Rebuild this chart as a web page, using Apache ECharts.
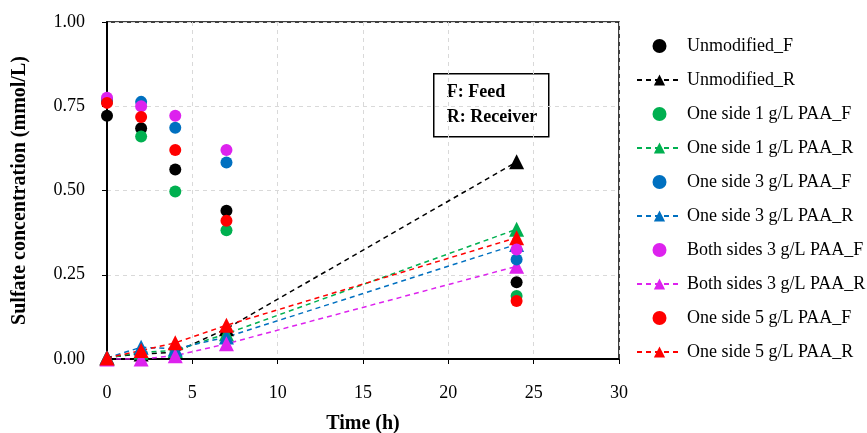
<!DOCTYPE html>
<html>
<head>
<meta charset="utf-8">
<script src="https://cdn.jsdelivr.net/npm/echarts@6/dist/echarts.min.js"></script>
<style>
  html, body { margin: 0; padding: 0; background: #fff; }
  #chart { width: 867px; height: 433px; }
</style>
</head>
<body>
<div id="chart"></div>
<script>
// sampling times (h)
const times = [0, 2, 4, 7, 24];

// feed side (F)
const unmodF  = [0.722, 0.685, 0.562, 0.440, 0.228];
const one1F   = [0.765, 0.660, 0.497, 0.382, 0.187];
const one3F   = [0.770, 0.763, 0.686, 0.583, 0.295];
const bothF   = [0.775, 0.750, 0.722, 0.620, 0.325];
const one5F   = [0.760, 0.718, 0.620, 0.410, 0.172];

// receiver side (R)
const unmodR  = [0.005, 0.015, 0.020, 0.090, 0.585];
const one1R   = [0.003, 0.020, 0.025, 0.075, 0.385];
const one3R   = [0.003, 0.035, 0.030, 0.065, 0.340];
const bothR   = [0.000, 0.000, 0.010, 0.045, 0.275];
const one5R   = [0.003, 0.025, 0.048, 0.100, 0.360];

const xTicks = [0, 5, 10, 15, 20, 25, 30];
const yTicks = [0, 0.25, 0.5, 0.75, 1.0];

const serif = '"Liberation Serif", "DejaVu Serif", serif';

function pts(vals) {
    return times.map((t, i) => [t, vals[i]]);
}

// scatter series for feed
function feed(name, vals, color) {
    return {
        name: name,
        type: 'scatter',
        data: pts(vals),
        symbol: 'circle',
        symbolSize: 12,
        itemStyle: { color: color, opacity: 1 },
        z: 3
    };
}

// dashed line + triangle for receiver
function recv(name, vals, color) {
    return {
        name: name,
        type: 'line',
        data: pts(vals),
        symbol: 'triangle',
        symbolSize: 15,
        showSymbol: true,
        itemStyle: { color: color, opacity: 1 },
        lineStyle: { color: color, width: 1.5, type: [5, 4] },
        z: 2
    };
}

const series = [
    feed('Unmodified_F', unmodF, '#000000'),
    recv('Unmodified_R', unmodR, '#000000'),
    feed('One side 1 g/L PAA_F', one1F, '#00b050'),
    recv('One side 1 g/L PAA_R', one1R, '#00b050'),
    feed('One side 3 g/L PAA_F', one3F, '#0070c0'),
    recv('One side 3 g/L PAA_R', one3R, '#0070c0'),
    feed('Both sides 3 g/L PAA_F', bothF, '#dd22ee'),
    recv('Both sides 3 g/L PAA_R', bothR, '#dd22ee'),
    feed('One side 5 g/L PAA_F', one5F, '#ff0000'),
    recv('One side 5 g/L PAA_R', one5R, '#ff0000')
];

const chart = echarts.init(document.getElementById('chart'));
chart.setOption({
    animation: false,
    textStyle: { fontFamily: serif },
    grid: {
        left: 107, top: 22, right: 248, bottom: 74,
        outerBoundsMode: 'none', containLabel: false,
        show: true, borderColor: '#000', borderWidth: 1.5
    },
    legend: {
        orient: 'vertical',
        left: 631, top: 32,
        itemWidth: 45, itemHeight: 14,
        itemGap: 16,
        textStyle: { fontFamily: serif, fontSize: 18, color: '#000' },
        data: series.map(s => s.name)
    },
    xAxis: {
        type: 'value',
        min: xTicks[0], max: xTicks[xTicks.length - 1], interval: 5,
        name: 'Time (h)', nameLocation: 'middle', nameGap: 55,
        nameTextStyle: { fontFamily: serif, fontSize: 20, fontWeight: 'bold', color: '#000' },
        axisLine: { lineStyle: { color: '#000', width: 2 } },
        axisTick: { show: true, length: 5, lineStyle: { color: '#000' } },
        axisLabel: { fontFamily: serif, fontSize: 18, color: '#000', margin: 25 },
        splitLine: { show: true, lineStyle: { color: '#d9d9d9', type: [4, 4] } }
    },
    yAxis: {
        type: 'value',
        min: yTicks[0], max: yTicks[yTicks.length - 1], interval: 0.25,
        name: 'Sulfate concentration (mmol/L)', nameLocation: 'middle', nameGap: 77,
        nameTextStyle: { fontFamily: serif, fontSize: 20, fontWeight: 'bold', color: '#000' },
        axisLine: { show: true, lineStyle: { color: '#000', width: 2 } },
        axisTick: { show: true, length: 5, lineStyle: { color: '#000' } },
        axisLabel: {
            fontFamily: serif, fontSize: 18, color: '#000', margin: 22,
            formatter: v => v.toFixed(2)
        },
        splitLine: { show: true, lineStyle: { color: '#d9d9d9', type: [4, 4] } }
    },
    graphic: [{
        type: 'group',
        left: 433, top: 73,
        children: [{
            type: 'rect',
            shape: { x: 0, y: 0, width: 115, height: 63 },
            style: { fill: '#fff', stroke: '#000', lineWidth: 1.5 }
        }, {
            type: 'text',
            left: 13, top: 6,
            style: {
                text: 'F: Feed\nR: Receiver',
                fontFamily: serif, fontSize: 18, fontWeight: 'bold',
                lineHeight: 25, fill: '#000'
            }
        }]
    }],
    series: series
});
</script>
</body>
</html>
